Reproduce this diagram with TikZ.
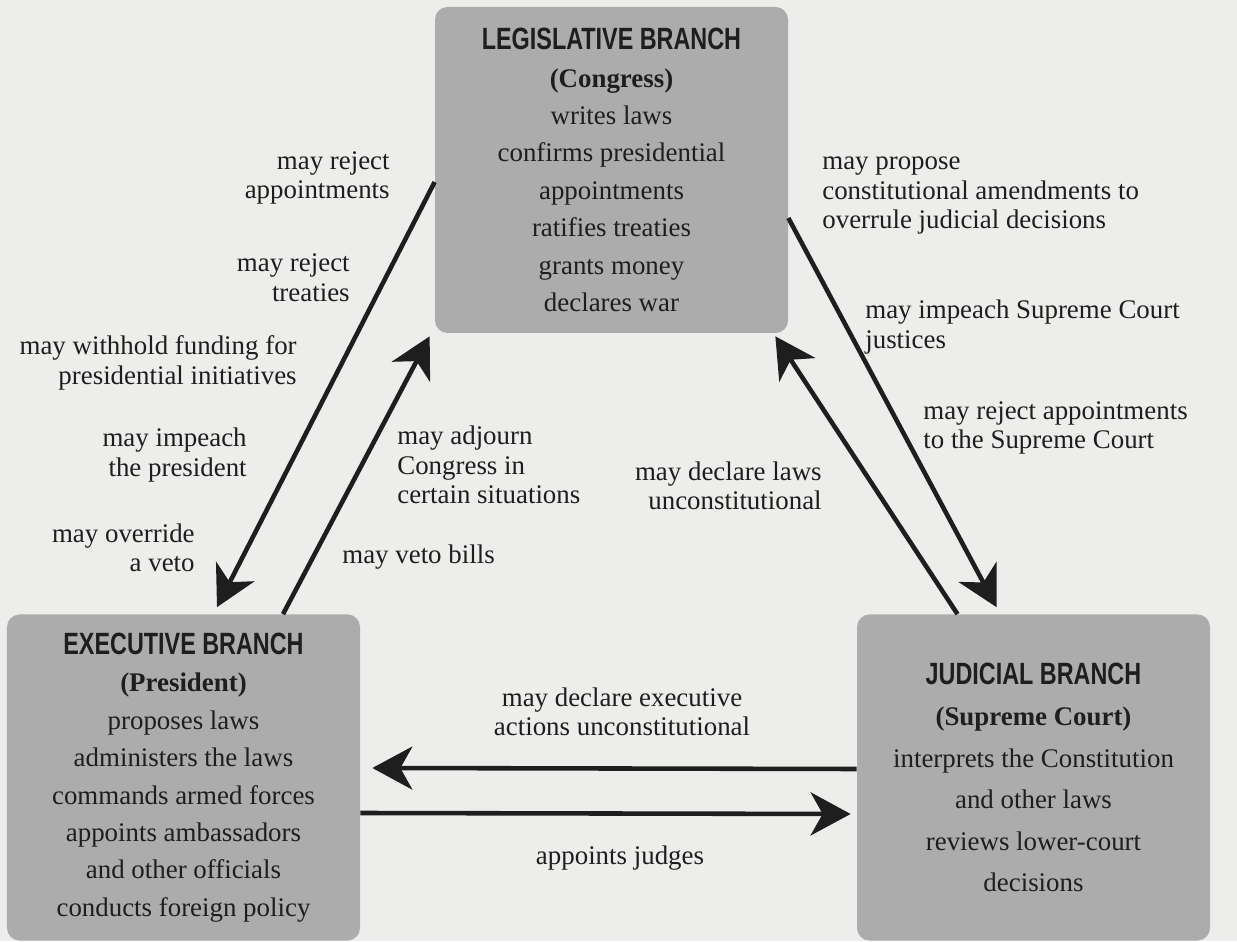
\documentclass[tikz,border=0pt]{standalone}
\usepackage{fontspec}
\setmainfont{Liberation Serif}
\newfontfamily\titlefont[FakeStretch=0.76]{Liberation Sans}
\usetikzlibrary{arrows.meta,positioning}
\definecolor{paper}{RGB}{237,237,235}
\definecolor{boxgray}{RGB}{172,172,172}
\definecolor{ink}{RGB}{30,30,30}
\newcommand{\bodysize}{\fontsize{15.3}{21.3}\selectfont}
\newcommand{\labelsize}{\fontsize{15.3}{16.8}\selectfont}
\newcommand{\branchname}[1]{{\titlefont\bfseries\fontsize{17.5}{21.3}\selectfont #1}}
\tikzset{%
  % Specifications for style of arrows:
   power/.style={
           -{Stealth[length=0.8cm,width=0.86cm,inset=0.24cm]},
           line width=2.6pt,
           draw=ink},
  % Specifications for style of nodes:
   branch/.style = {rectangle, rounded corners=0.25cm, fill=boxgray,
                  minimum width=7.06cm, minimum height=6.52cm, inner sep=0pt,
                  align=center, font=\bodysize, text=ink},
   check/.style = {align=left, font=\labelsize, text=ink, inner sep=0pt},
   checkright/.style = {check, align=right},
   checkmid/.style = {check, align=center},
}

\begin{document}
\begin{tikzpicture}[node distance=17cm]

  % Page background
  \fill[paper] (0,0) rectangle (24.74,18.82);

  % The three branches
  \node (leg_block) [branch] at (12.23,15.42) {\branchname{LEGISLATIVE BRANCH}\\ \textbf{(Congress)}\\ writes laws\\ confirms presidential\\ appointments\\ ratifies treaties\\ grants money\\ declares war};
  \node (exec_block) [branch] at (3.67,3.27) {\branchname{EXECUTIVE BRANCH}\\ \textbf{(President)}\\ proposes laws\\ administers the laws\\ commands armed forces\\ appoints ambassadors\\ and other officials\\ conducts foreign policy};
  \node (jud_block) [branch, right of=exec_block, font={\fontsize{15.3}{23.6}\selectfont}] {\branchname{JUDICIAL BRANCH}\\ \textbf{(Supreme Court)}\\ interprets the Constitution\\ and other laws\\ reviews lower-court\\ decisions};

  % Checks written beside the arrows
  \node (lbl_rejappt) [checkright, anchor=east] at (7.8,15.26) {may reject\\ appointments};
  \node (lbl_rejtreat) [checkright, anchor=east] at (7.0,13.27) {may reject\\ treaties};
  \node (lbl_withhold) [checkright, anchor=east] at (5.94,11.56) {may withhold funding for\\ presidential initiatives};
  \node (lbl_impeach) [checkright, anchor=east] at (4.94,9.72) {may impeach\\ the president};
  \node (lbl_override) [checkright, anchor=east] at (3.9,7.86) {may override\\ a veto};
  \node (lbl_adjourn) [check, anchor=west] at (7.94,9.52) {may adjourn\\ Congress in\\ certain situations};
  \node (lbl_veto) [check, anchor=west] at (6.84,7.68) {may veto bills};
  \node (lbl_propose) [check, anchor=west] at (16.44,14.9) {may propose\\ constitutional amendments to\\ overrule judicial decisions};
  \node (lbl_impeachsc) [check, anchor=west] at (17.3,12.28) {may impeach Supreme Court\\ justices};
  \node (lbl_rejsc) [check, anchor=west] at (18.46,10.26) {may reject appointments\\ to the Supreme Court};
  \node (lbl_declaws) [checkright, anchor=east] at (16.44,9.1) {may declare laws\\ unconstitutional};
  \node (lbl_declexec) [checkmid] at (12.44,4.58) {may declare executive\\ actions unconstitutional};
  \node (lbl_judges) [checkmid] at (12.4,1.66) {appoints judges};

  % Arrows between the branches
  \draw[power] ([yshift=-0.24cm]leg_block.west) -- ([xshift=0.67cm,yshift=0.14cm]exec_block.north);
  \draw[power] ([xshift=1.99cm]exec_block.north) -- ([xshift=-0.1cm,yshift=-0.06cm]leg_block.south west);
  \draw[power] ([yshift=-0.96cm]leg_block.east) -- ([xshift=-0.74cm,yshift=0.14cm]jud_block.north);
  \draw[power] ([xshift=-1.52cm]jud_block.north) -- ([xshift=-0.26cm,yshift=-0.06cm]leg_block.south east);
  \draw[power] ([yshift=0.17cm]jud_block.west) -- ([xshift=0.24cm,yshift=0.19cm]exec_block.east);
  \draw[power] ([yshift=-0.71cm]exec_block.east) -- ([xshift=-0.12cm,yshift=-0.73cm]jud_block.west);

\end{tikzpicture}
\end{document}
